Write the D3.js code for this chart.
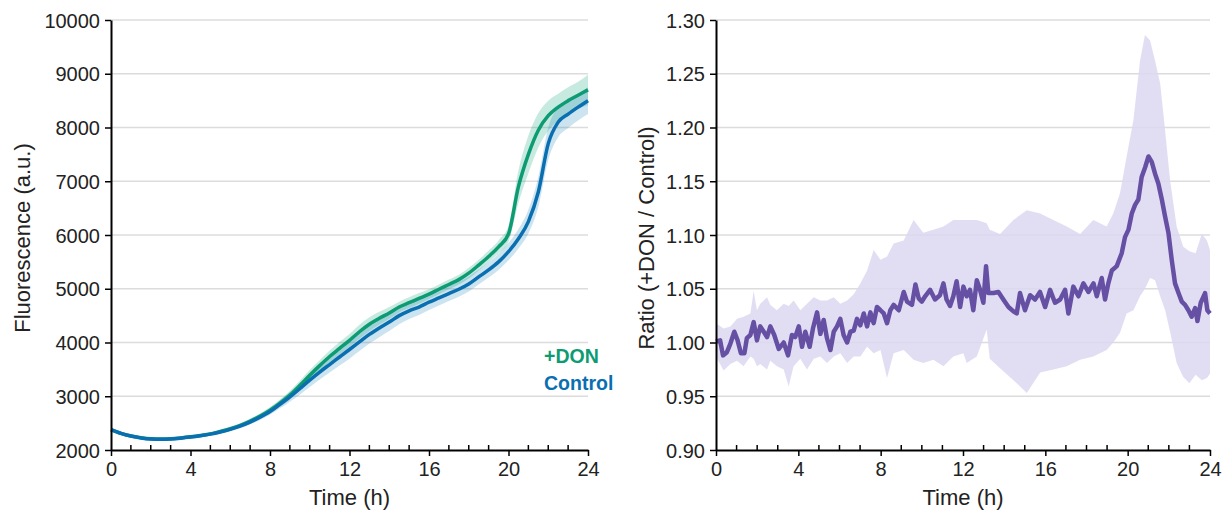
<!DOCTYPE html>
<html lang="en">
<head>
<meta charset="UTF-8">
<title>Fluorescence and ratio</title>
<style>
  body { margin: 0; background: #fff; }
  svg { display: block; font-family: "Liberation Sans", Arial, sans-serif; }
  .grid line { stroke: #dcdcdc; stroke-width: 1.5; }
  .axis path, .axis line { stroke: #000; }
  .axis path { stroke-width: 2; }
  .axis line { stroke-width: 1.5; }
  .axis text { font-size: 20px; fill: #222; }
  .title { font-size: 22px; fill: #222; }
</style>
</head>
<body>
<svg id="chart" width="1223" height="510"></svg>
<script src="https://cdn.jsdelivr.net/npm/d3@7"></script>
<script>
// ---- left panel: mean fluorescence every 0.5 h, 0..24 h ----
const fluoTime = d3.range(0, 24.001, 0.5);
const controlMean = [2380, 2310, 2260, 2225, 2205, 2200, 2205, 2220, 2240, 2265,
  2295, 2335, 2385, 2445, 2520, 2610, 2715, 2850, 2990, 3140,
  3300, 3450, 3590, 3730, 3870, 4010, 4150, 4270, 4380, 4500,
  4590, 4660, 4750, 4830, 4910, 4990, 5090, 5220, 5350, 5500,
  5690, 5930, 6250, 6800, 7700, 8100, 8250, 8380, 8500];
const controlSd = [25, 25, 25, 25, 25, 25, 25, 25, 25, 25,
  25, 25, 30, 35, 40, 50, 60, 75, 90, 110,
  130, 140, 150, 160, 170, 170, 170, 170, 165, 160,
  155, 150, 145, 140, 140, 140, 140, 140, 140, 150,
  160, 180, 220, 280, 300, 280, 260, 250, 250];
const donMean = [2380, 2310, 2260, 2230, 2210, 2205, 2210, 2225, 2245, 2270,
  2300, 2345, 2395, 2460, 2540, 2630, 2740, 2870, 3020, 3200,
  3390, 3570, 3740, 3890, 4040, 4200, 4340, 4450, 4550, 4660,
  4740, 4820, 4900, 4990, 5080, 5170, 5290, 5440, 5600, 5780,
  6020, 6900, 7500, 7950, 8220, 8380, 8500, 8600, 8700];
const donSd = [25, 25, 25, 25, 25, 25, 25, 25, 25, 25,
  25, 25, 30, 35, 40, 50, 60, 70, 80, 90,
  100, 100, 110, 120, 120, 130, 130, 120, 110, 100,
  100, 100, 90, 90, 90, 90, 100, 100, 110, 120,
  150, 300, 350, 320, 280, 250, 250, 250, 280];

// ---- right panel: ratio (+DON / Control) ----
const ratioTime = [0, 0.2, 0.34, 0.53, 0.7, 0.89, 1.05, 1.21, 1.38, 1.5,
  1.67, 1.83, 1.99, 2.15, 2.32, 2.48, 2.64, 2.83, 3.05, 3.29,
  3.5, 3.69, 3.85, 4.02, 4.18, 4.34, 4.55, 4.71, 4.91, 5.07,
  5.23, 5.39, 5.56, 5.72, 5.88, 6.04, 6.2, 6.37, 6.53, 6.69,
  6.85, 7.01, 7.18, 7.34, 7.5, 7.66, 7.82, 7.99, 8.15, 8.31,
  8.47, 8.63, 8.88, 9.12, 9.28, 9.52, 9.69, 9.85, 10.0, 10.16,
  10.4, 10.64, 10.88, 11.05, 11.2, 11.37, 11.53, 11.69, 11.86, 12.02,
  12.18, 12.34, 12.5, 12.67, 12.83, 12.99, 13.12, 13.23, 13.48, 13.72,
  13.96, 14.21, 14.45, 14.61, 14.77, 15.01, 15.26, 15.5, 15.74, 15.99,
  16.23, 16.47, 16.72, 16.96, 17.12, 17.36, 17.61, 17.85, 18.09, 18.34,
  18.5, 18.74, 18.9, 19.06, 19.23, 19.47, 19.71, 19.87, 20.04, 20.2,
  20.36, 20.52, 20.68, 20.85, 21.01, 21.17, 21.33, 21.49, 21.66, 21.82,
  21.98, 22.14, 22.3, 22.47, 22.63, 22.79, 22.95, 23.11, 23.28, 23.39,
  23.55, 23.76, 23.87, 24.0];
const ratioMean = [1.001, 1.002, 0.988, 0.991, 0.999, 1.010, 1.002, 0.990, 0.990, 1.004,
  1.007, 1.019, 1.002, 1.015, 1.010, 1.005, 1.015, 1.007, 0.994, 1.000,
  0.988, 1.007, 1.005, 1.015, 0.996, 1.010, 0.996, 1.013, 1.028, 1.008,
  1.021, 1.004, 0.993, 1.010, 1.015, 1.022, 1.007, 1.000, 1.010, 1.011,
  1.022, 1.016, 1.027, 1.015, 1.028, 1.018, 1.033, 1.030, 1.027, 1.018,
  1.030, 1.035, 1.030, 1.047, 1.038, 1.035, 1.054, 1.041, 1.038, 1.043,
  1.049, 1.040, 1.044, 1.055, 1.040, 1.034, 1.043, 1.057, 1.033, 1.052,
  1.043, 1.049, 1.030, 1.058, 1.049, 1.037, 1.071, 1.046, 1.046, 1.047,
  1.040, 1.033, 1.029, 1.027, 1.046, 1.030, 1.044, 1.040, 1.047, 1.033,
  1.049, 1.037, 1.040, 1.049, 1.027, 1.052, 1.043, 1.055, 1.047, 1.055,
  1.043, 1.060, 1.040, 1.055, 1.067, 1.071, 1.083, 1.098, 1.105, 1.120,
  1.128, 1.133, 1.154, 1.163, 1.173, 1.168, 1.157, 1.148, 1.133, 1.117,
  1.102, 1.077, 1.055, 1.046, 1.038, 1.035, 1.030, 1.024, 1.032, 1.020,
  1.037, 1.046, 1.030, 1.027];

const bandTime = [0, 0.37, 0.7, 1.02, 1.34, 1.67, 1.83, 1.99, 2.15, 2.48,
  2.64, 2.96, 3.29, 3.53, 3.77, 4.1, 4.42, 4.75, 5.07, 5.39,
  5.72, 6.04, 6.37, 6.69, 7.01, 7.34, 7.66, 7.99, 8.31, 8.63,
  9.12, 9.6, 10.07, 10.56, 11.05, 11.53, 12.02, 12.18, 12.67, 13.15,
  13.3, 13.8, 14.45, 15.1, 15.75, 16.39, 17.04, 17.69, 18.33, 18.98,
  19.3, 19.63, 19.95, 20.28, 20.6, 20.84, 21.09, 21.33, 21.58, 21.82,
  22.06, 22.38, 22.7, 23.0, 23.3, 23.6, 23.85, 24.0];
const bandLow = [0.987, 0.974, 0.980, 0.983, 0.978, 0.987, 0.985, 0.978, 0.980, 0.975,
  0.983, 0.978, 0.975, 0.959, 0.978, 0.985, 0.975, 0.985, 0.987, 0.981,
  0.987, 0.990, 0.981, 0.987, 0.987, 0.996, 0.990, 0.993, 0.967, 0.990,
  0.993, 0.984, 0.981, 0.984, 0.978, 0.987, 0.990, 0.981, 0.987, 1.012,
  0.985, 0.976, 0.965, 0.953, 0.972, 0.975, 0.978, 0.984, 0.987, 0.993,
  1.000, 1.009, 1.027, 1.030, 1.043, 1.050, 1.060, 1.058, 1.043, 1.030,
  1.010, 0.981, 0.968, 0.962, 0.970, 0.965, 0.967, 0.971];
const bandHigh = [1.018, 1.013, 1.015, 1.022, 1.024, 1.027, 1.048, 1.030, 1.036, 1.042,
  1.035, 1.030, 1.036, 1.034, 1.039, 1.030, 1.036, 1.042, 1.039, 1.039,
  1.042, 1.036, 1.039, 1.045, 1.055, 1.067, 1.086, 1.077, 1.080, 1.092,
  1.095, 1.114, 1.102, 1.105, 1.108, 1.114, 1.114, 1.114, 1.114, 1.111,
  1.105, 1.101, 1.114, 1.123, 1.120, 1.114, 1.108, 1.101, 1.114, 1.108,
  1.120, 1.139, 1.173, 1.207, 1.262, 1.286, 1.281, 1.262, 1.241, 1.197,
  1.151, 1.108, 1.089, 1.085, 1.083, 1.101, 1.095, 1.086];

const xTicks = [0, 4, 8, 12, 16, 20, 24];
const fluoTicks = [2000, 3000, 4000, 5000, 6000, 7000, 8000, 9000, 10000];
const ratioTicks = [0.90, 0.95, 1.00, 1.05, 1.10, 1.15, 1.20, 1.25, 1.30];

const svg = d3.select("#chart");
const plotTop = 20, plotBottom = 450;

function panel(left, right, yDomain, yTicks, yFormat, yTitle, titleX) {
  const x = d3.scaleLinear().domain([0, 24]).range([left, right]);
  const y = d3.scaleLinear().domain(yDomain).range([plotBottom, plotTop]);
  const g = svg.append("g");

  g.append("g").attr("class", "grid")
    .selectAll("line").data(yTicks.slice(1)).join("line")
    .attr("x1", left).attr("x2", right)
    .attr("y1", d => y(d)).attr("y2", d => y(d));

  const plot = g.append("g");

  // minor ticks inside, every hour
  g.append("g").selectAll("line").data(d3.range(1, 24).filter(h => h % 4 !== 0)).join("line")
    .attr("x1", d => x(d)).attr("x2", d => x(d))
    .attr("y1", plotBottom).attr("y2", plotBottom - 5)
    .attr("stroke", "#000").attr("stroke-width", 1.5);

  g.append("g").attr("class", "axis")
    .attr("transform", `translate(0,${plotBottom})`)
    .call(d3.axisBottom(x).tickValues(xTicks).tickSize(6).tickPadding(4).tickSizeOuter(0))
    .call(a => a.selectAll("text").attr("dy", "0.78em"));

  g.append("g").attr("class", "axis")
    .attr("transform", `translate(${left},0)`)
    .call(d3.axisLeft(y).tickValues(yTicks).tickFormat(yFormat).tickSize(6).tickPadding(5).tickSizeOuter(0))
    .call(a => a.selectAll("text").attr("dy", "0.36em"));

  g.append("text").attr("class", "title")
    .attr("x", (left + right) / 2).attr("y", 505)
    .attr("text-anchor", "middle").text("Time (h)");

  g.append("text").attr("class", "title")
    .attr("transform", `translate(${titleX},${(plotTop + plotBottom) / 2 + 3}) rotate(-90)`)
    .attr("text-anchor", "middle").text(yTitle);

  return { x, y, plot };
}

// left panel
const L = panel(111, 588, [2000, 10000], fluoTicks, d3.format("d"), "Fluorescence (a.u.)", 30);
const fluoArea = (mean, sd) => d3.area()
  .x((d, i) => L.x(fluoTime[i]))
  .y0((d, i) => L.y(mean[i] - sd[i]))
  .y1((d, i) => L.y(mean[i] + sd[i]))
  .curve(d3.curveMonotoneX);
const fluoLine = () => d3.line()
  .x((d, i) => L.x(fluoTime[i]))
  .y(d => L.y(d))
  .curve(d3.curveMonotoneX);

L.plot.append("path").datum(donMean).attr("d", fluoArea(donMean, donSd))
  .attr("fill", "#009E73").attr("fill-opacity", 0.22);
L.plot.append("path").datum(controlMean).attr("d", fluoArea(controlMean, controlSd))
  .attr("fill", "#0072B2").attr("fill-opacity", 0.2);
L.plot.append("path").datum(donMean).attr("d", fluoLine())
  .attr("fill", "none").attr("stroke", "#0d9b73").attr("stroke-width", 3.5);
L.plot.append("path").datum(controlMean).attr("d", fluoLine())
  .attr("fill", "none").attr("stroke", "#0a6fb0").attr("stroke-width", 3.5);

L.plot.append("text").attr("x", 544).attr("y", 363)
  .attr("font-size", 19.5).attr("font-weight", "bold").attr("fill", "#0d9b73").text("+DON");
L.plot.append("text").attr("x", 544).attr("y", 390)
  .attr("font-size", 19.5).attr("font-weight", "bold").attr("fill", "#0a6fb0").text("Control");

// right panel
const R = panel(716, 1210, [0.90, 1.30], ratioTicks, d3.format(".2f"), "Ratio (+DON / Control)", 654);
R.plot.append("path").datum(bandTime)
  .attr("d", d3.area()
    .x(d => R.x(d))
    .y0((d, i) => R.y(bandLow[i]))
    .y1((d, i) => R.y(bandHigh[i])))
  .attr("fill", "#dcd8f2").attr("fill-opacity", 0.85);
R.plot.append("path").datum(ratioMean)
  .attr("d", d3.line()
    .x((d, i) => R.x(ratioTime[i]))
    .y(d => R.y(d)))
  .attr("fill", "none").attr("stroke", "#6650a4").attr("stroke-width", 4.5)
  .attr("stroke-linejoin", "round");
</script>
</body>
</html>
